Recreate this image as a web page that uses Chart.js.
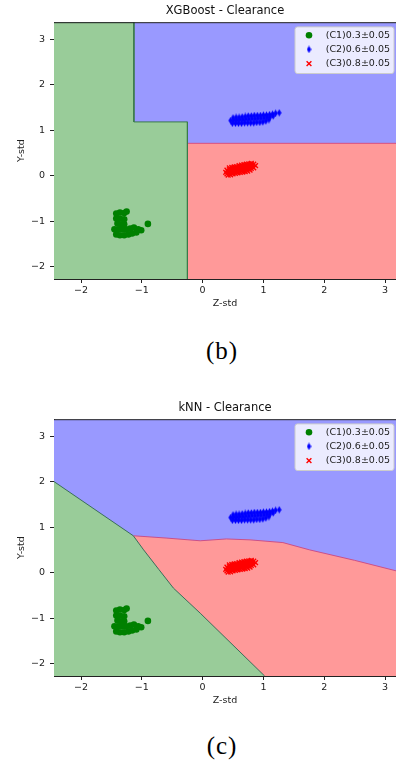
<!DOCTYPE html>
<html>
<head>
<meta charset="utf-8">
<script src="https://cdn.jsdelivr.net/npm/chart.js@4.4.1/dist/chart.umd.min.js"></script>
<style>
  html, body { margin: 0; padding: 0; background: #fff; }
  body { width: 396px; height: 761px; position: relative; overflow: hidden; }
  canvas { position: absolute; left: 0; }
  #c1 { top: 0; }
  #c2 { top: 397px; }
  .cap { position: absolute; left: 192px; width: 60px; text-align: center;
         font-family: "Liberation Serif", "DejaVu Serif", serif; font-size: 25px; line-height: 25px;
         letter-spacing: 1px; color: #000; }
</style>
</head>
<body>
<canvas id="c1" width="396" height="320"></canvas>
<div class="cap" style="top:338px">(b)</div>
<canvas id="c2" width="396" height="320"></canvas>
<div class="cap" style="top:733px">(c)</div>

<script>
// axis ranges + ticks
const xMin = -2.444, xMax = 3.18;
const yMin = -2.27, yMax = 3.37;
const xTickValues = [-2, -1, 0, 1, 2, 3];
const yTickValues = [-2, -1, 0, 1, 2, 3];

const seriesLabels = ['(C1)0.3±0.05', '(C2)0.6±0.05', '(C3)0.8±0.05'];

// C1 samples (green dots)
const c1Z = [-1.42, -1.36, -1.29, -1.25, -1.42, -1.36, -1.29, -1.40, -1.34, -1.29,
             -1.45, -1.39, -1.32, -1.26, -1.19, -1.13, -1.06, -1.01,
             -1.42, -1.36, -1.29, -1.22, -1.16, -1.09, -0.90];
const c1Y = [-0.83, -0.81, -0.82, -0.79, -0.94, -0.94, -0.96, -1.05, -1.07, -1.07,
             -1.18, -1.18, -1.18, -1.18, -1.16, -1.14, -1.18, -1.20,
             -1.29, -1.31, -1.31, -1.29, -1.27, -1.25, -1.06];

// C2 samples (blue diamonds)
const c2Z = [0.50, 0.55, 0.60, 0.65, 0.70, 0.75, 0.80, 0.85, 0.90, 0.95, 1.00, 1.05, 1.10, 1.15, 1.20, 1.26,
             0.46, 0.51, 0.56, 0.61, 0.66, 0.71, 0.76, 0.81, 0.86, 0.91, 0.96, 1.01, 1.06, 1.11, 1.16,
             0.49, 0.54, 0.59, 0.64, 0.69, 0.74, 0.79, 0.84, 0.89, 0.94, 0.99, 1.04, 1.09];
const c2Y = [1.27, 1.28, 1.28, 1.29, 1.30, 1.31, 1.31, 1.32, 1.32, 1.32, 1.33, 1.33, 1.34, 1.35, 1.37, 1.38,
             1.21, 1.22, 1.22, 1.23, 1.23, 1.24, 1.24, 1.25, 1.25, 1.26, 1.26, 1.27, 1.28, 1.29, 1.31,
             1.15, 1.15, 1.15, 1.15, 1.16, 1.16, 1.16, 1.16, 1.17, 1.17, 1.18, 1.20, 1.23];

// C3 samples (red crosses)
const c3Z = [0.44, 0.48, 0.52, 0.56, 0.60, 0.64, 0.68, 0.72, 0.76, 0.80,
             0.40, 0.44, 0.48, 0.52, 0.56, 0.60, 0.64, 0.68, 0.72, 0.76, 0.80, 0.84,
             0.38, 0.42, 0.46, 0.50, 0.54, 0.58, 0.62, 0.66, 0.70, 0.74, 0.78, 0.82, 0.87,
             0.40, 0.44, 0.48, 0.52, 0.56, 0.60, 0.64, 0.68, 0.72, 0.76, 0.80, 0.84,
             0.42, 0.46, 0.50, 0.54, 0.58, 0.62, 0.66, 0.70, 0.74, 0.78];
const c3Y = [0.17, 0.18, 0.19, 0.20, 0.22, 0.23, 0.24, 0.25, 0.26, 0.27,
             0.12, 0.13, 0.14, 0.15, 0.17, 0.18, 0.19, 0.20, 0.21, 0.23, 0.24, 0.25,
             0.07, 0.09, 0.10, 0.11, 0.12, 0.13, 0.15, 0.16, 0.17, 0.18, 0.19, 0.21, 0.22,
             0.04, 0.06, 0.07, 0.08, 0.09, 0.10, 0.12, 0.13, 0.14, 0.15, 0.16, 0.17,
             0.01, 0.02, 0.04, 0.05, 0.06, 0.07, 0.08, 0.09, 0.10, 0.12];

// XGBoost decision regions (upper edge of each filled area)
const xgbGreenZ = [xMin, -1.13, -1.13, -0.25, -0.25];
const xgbGreenY = [yMax, yMax, 1.18, 1.18, yMin];
const xgbRedZ = [-0.25, xMax];
const xgbRedY = [0.71, 0.71];

// kNN decision regions
const knnGreenZ = [xMin, -1.14, -0.97, -0.72, -0.48, -0.04, 1.02];
const knnGreenY = [2.00, 0.81, 0.50, 0.07, -0.34, -0.89, yMin];
const knnRedZ = [-1.14, -0.60, -0.04, 0.39, 0.78, 1.32, 1.76, 2.50, xMax];
const knnRedY = [0.81, 0.76, 0.70, 0.74, 0.72, 0.66, 0.50, 0.27, 0.04];

// blue class covers everything else
const bgZ = [xMin, xMax];
const bgY = [yMax, yMax];

Chart.defaults.font.family = '"DejaVu Sans", sans-serif';
Chart.defaults.color = '#222';

function pts(zs, ys) {
  return zs.map((z, i) => ({x: z, y: ys[i]}));
}

// thin diamond marker like matplotlib 'd'
const diamond = document.createElement('canvas');
diamond.width = 5; diamond.height = 8;
(function() {
  const g = diamond.getContext('2d');
  g.fillStyle = '#0000ff';
  g.beginPath();
  g.moveTo(2.5, 0.2); g.lineTo(4.7, 4); g.lineTo(2.5, 7.8); g.lineTo(0.3, 4);
  g.closePath(); g.fill();
})();

function clusterSets() {
  return [
    {label: seriesLabels[0], data: pts(c1Z, c1Y), pointStyle: 'circle', pointRadius: 3.3,
     backgroundColor: '#008000', borderColor: '#008000', borderWidth: 0, inLegend: true},
    {label: seriesLabels[1], data: pts(c2Z, c2Y), pointStyle: diamond, pointRadius: 4,
     backgroundColor: '#0000ff', borderColor: '#0000ff', borderWidth: 0, inLegend: true},
    {label: seriesLabels[2], data: pts(c3Z, c3Y), pointStyle: 'crossRot', pointRadius: 3.4,
     backgroundColor: '#ff0000', borderColor: '#ff0000', borderWidth: 1.4, inLegend: true}
  ];
}

function regionSet(zs, ys, color, edge) {
  return {
    type: 'line', data: pts(zs, ys), backgroundColor: color,
    borderColor: edge || 'rgba(0,0,0,0)', borderWidth: edge ? 1 : 0,
    fill: 'start', pointRadius: 0, tension: 0, inLegend: false
  };
}

function fmt(v) {
  return v < 0 ? '\u2212' + Math.abs(v) : String(v);
}

// top spine
const topFrame = {
  id: 'topFrame',
  afterDatasetsDraw(chart) {
    const {ctx, chartArea: a} = chart;
    ctx.save();
    ctx.strokeStyle = '#222';
    ctx.lineWidth = 1;
    ctx.beginPath();
    ctx.moveTo(a.left, a.top + 0.5);
    ctx.lineTo(a.right, a.top + 0.5);
    ctx.stroke();
    ctx.restore();
  }
};

// matplotlib-like legend in the upper right corner of the plot
const insideLegend = {
  id: 'insideLegend',
  afterDraw(chart) {
    const {ctx, chartArea} = chart;
    const sets = chart.data.datasets.filter(d => d.inLegend);
    const w = 99, h = 46.6, r = 2.5;
    const left = chartArea.right - 101, top = chartArea.top + 4.7;
    ctx.save();
    ctx.beginPath();
    ctx.moveTo(left + r, top);
    ctx.lineTo(left + w - r, top);
    ctx.arcTo(left + w, top, left + w, top + r, r);
    ctx.lineTo(left + w, top + h - r);
    ctx.arcTo(left + w, top + h, left + w - r, top + h, r);
    ctx.lineTo(left + r, top + h);
    ctx.arcTo(left, top + h, left, top + h - r, r);
    ctx.lineTo(left, top + r);
    ctx.arcTo(left, top, left + r, top, r);
    ctx.closePath();
    ctx.fillStyle = 'rgba(255,255,255,0.8)';
    ctx.fill();
    ctx.strokeStyle = '#cccccc';
    ctx.lineWidth = 1;
    ctx.stroke();

    sets.forEach((d, i) => {
      const y = top + 8.3 + i * 14.2;
      const mx = left + 14;
      if (d.pointStyle === 'circle') {
        ctx.fillStyle = d.backgroundColor;
        ctx.beginPath();
        ctx.arc(mx, y, d.pointRadius, 0, Math.PI * 2);
        ctx.fill();
      } else if (d.pointStyle === 'crossRot') {
        const o = d.pointRadius * Math.SQRT1_2;
        ctx.strokeStyle = d.borderColor;
        ctx.lineWidth = d.borderWidth;
        ctx.beginPath();
        ctx.moveTo(mx - o, y - o); ctx.lineTo(mx + o, y + o);
        ctx.moveTo(mx + o, y - o); ctx.lineTo(mx - o, y + o);
        ctx.stroke();
      } else {
        ctx.drawImage(d.pointStyle, mx - d.pointStyle.width / 2, y - d.pointStyle.height / 2);
      }
      ctx.fillStyle = '#222';
      ctx.font = '9.5px "DejaVu Sans", sans-serif';
      ctx.textAlign = 'left';
      ctx.textBaseline = 'middle';
      ctx.fillText(d.label, left + 30.7, y);
    });
    ctx.restore();
  }
};

function makeChart(id, title, regions) {
  return new Chart(document.getElementById(id), {
    type: 'scatter',
    data: {datasets: clusterSets().concat(regions)},
    options: {
      responsive: false,
      animation: false,
      events: [],
      layout: {padding: 0, autoPadding: false},
      plugins: {
        legend: {display: false},
        tooltip: {enabled: false},
        title: {
          display: true, text: title, fullSize: false, color: '#111',
          font: {size: 11.5, weight: 'normal'}, padding: {top: 4.5, bottom: 3.9}
        }
      },
      scales: {
        x: {
          type: 'linear', min: xMin, max: xMax,
          afterBuildTicks: s => { s.ticks = xTickValues.map(v => ({value: v})); },
          afterFit: s => { s.height = 41; s.paddingLeft = 0; s.paddingRight = 0; },
          ticks: {callback: fmt, font: {size: 9.5}, padding: 2, autoSkip: false, maxRotation: 0},
          grid: {drawOnChartArea: false, drawTicks: true, tickLength: 4, color: '#222', lineWidth: 1},
          border: {display: true, color: '#222', width: 1},
          title: {display: true, text: 'Z-std', font: {size: 9.5}, color: '#222', padding: {top: 0, bottom: 10.3}}
        },
        y: {
          type: 'linear', min: yMin, max: yMax,
          afterBuildTicks: s => { s.ticks = yTickValues.map(v => ({value: v})); },
          afterFit: s => { s.width = 54; s.paddingTop = 0; s.paddingBottom = 0; },
          ticks: {callback: fmt, font: {size: 9.5}, padding: 5, autoSkip: false},
          grid: {drawOnChartArea: false, drawTicks: true, tickLength: 4, color: '#222', lineWidth: 1},
          border: {display: true, color: '#222', width: 1},
          title: {display: true, text: 'Y-std', font: {size: 9.5}, color: '#222', padding: {top: 16.3, bottom: 0}}
        }
      }
    },
    plugins: [topFrame, insideLegend]
  });
}

// regions: later datasets are painted first, so blue goes last
makeChart('c1', 'XGBoost - Clearance', [
  regionSet(xgbGreenZ, xgbGreenY, '#99cc99', '#3a7a4a'),
  regionSet(xgbRedZ, xgbRedY, '#ff9999', '#d9507f'),
  regionSet(bgZ, bgY, '#9999ff')
]);

makeChart('c2', 'kNN - Clearance', [
  regionSet(knnGreenZ, knnGreenY, '#99cc99', '#3a6e5a'),
  regionSet(knnRedZ, knnRedY, '#ff9999', '#c9508a'),
  regionSet(bgZ, bgY, '#9999ff')
]);
</script>
</body>
</html>
